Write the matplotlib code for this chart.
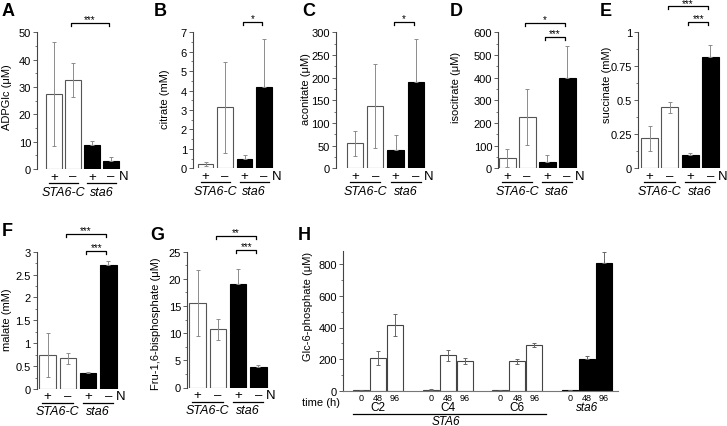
import matplotlib
matplotlib.use("Agg")
import matplotlib.pyplot as plt
from matplotlib.lines import Line2D
from matplotlib.ticker import MultipleLocator, AutoMinorLocator, FormatStrFormatter

W, H = 727, 427

NARROW = ["Liberation Sans Narrow", "Liberation Sans", "DejaVu Sans"]
REGULAR = ["Liberation Sans", "DejaVu Sans"]
plt.rcParams["font.family"] = NARROW

# values
n_signs = ["+", "\u2013", "+", "\u2013"]
genotypes = ["STA6-C", "sta6"]

adpglc = [27.4, 32.6, 8.9, 3.0]
adpglc_err = [19.0, 6.1, 1.2, 1.3]
citrate = [0.2, 3.13, 0.46, 4.2]
citrate_err = [0.1, 2.35, 0.23, 2.45]
aconitate = [55, 138, 40, 190]
aconitate_err = [28, 93, 33, 95]
isocitrate = [44, 225, 29, 397]
isocitrate_err = [40, 123, 30, 141]
succinate = [0.22, 0.45, 0.10, 0.82]
succinate_err = [0.09, 0.04, 0.015, 0.09]
malate = [0.74, 0.67, 0.36, 2.71]
malate_err = [0.48, 0.12, 0.02, 0.08]
fbp = [15.5, 10.7, 19.0, 3.7]
fbp_err = [6.1, 2.0, 2.8, 0.5]

# significance: (bar i, bar j, stars)
sig_a = [(1, 3, "***")]
sig_b = [(2, 3, "*")]
sig_c = [(2, 3, "*")]
sig_d = [(1, 3, "*"), (2, 3, "***")]
sig_e = [(1, 3, "***"), (2, 3, "***")]
sig_f = [(1, 3, "***"), (2, 3, "***")]
sig_g = [(1, 3, "**"), (2, 3, "***")]

h_groups = ["C2", "C4", "C6", "sta6"]
h_times = ["0", "48", "96"]
g6p = [[5, 210, 414], [8, 225, 192], [5, 187, 290], [6, 204, 806]]
g6p_err = [[2, 45, 70], [2, 35, 19], [2, 15, 10], [2, 15, 67]]

fig = plt.figure(figsize=(W / 100, H / 100), dpi=100)


def add_axes_px(left, right, y0, ytop):
    return fig.add_axes([left / W, 1 - y0 / H, (right - left) / W, (y0 - ytop) / H])


def style_yaxis(ax, step, ymax):
    ax.set_ylim(0, ymax)
    ax.yaxis.set_major_locator(MultipleLocator(step))
    ax.yaxis.set_minor_locator(AutoMinorLocator(2))
    ax.yaxis.set_major_formatter(FormatStrFormatter("%g"))
    ax.tick_params(axis="y", which="major", direction="out", length=3, width=0.6,
                   pad=1.4, labelsize=8, color="#444")
    ax.tick_params(axis="y", which="minor", direction="out", length=1.6, width=0.5,
                   color="#444")
    ax.spines["left"].set_linewidth(0.8)
    ax.spines["left"].set_color("#444")
    for s in ("top", "right"):
        ax.spines[s].set_visible(False)


def place_ylabel(ax, text, axis_x, right, y0, ytop, cx, cy):
    ax.set_ylabel(text, family=REGULAR, fontsize=8)
    ax.yaxis.label.set_va("center")
    ax.yaxis.set_label_coords((cx - axis_x) / (right - axis_x), (y0 - cy) / (y0 - ytop))


# layout in pixels: axis x, first bar centre, bar spacing, bar width,
# y of zero, y of top, ylabel centre x, ylabel centre y, bracket ys, letter pos
LAYOUT = {
    "A": (37.3, 54, 19.0, 16.0, 170, 33.3, 7, 97, [24], (2, 3)),
    "B": (193, 205.5, 19.5, 15.5, 169.3, 33.3, 165, 99, [22.7], (154, 3)),
    "C": (336, 355, 20.3, 16.3, 169.3, 33.3, 306, 89, [22.7], (302, 3)),
    "D": (498.3, 507, 20.0, 17.0, 169.3, 33.3, 456, 87, [24, 37.7], (450, 3)),
    "E": (638, 649.5, 20.3, 17.0, 169.3, 33.3, 607, 85, [7.3, 22.7], (600, 3)),
    "F": (36.7, 47.5, 20.3, 16.5, 390, 252.7, 7, 320, [235, 251.7], (2, 223)),
    "G": (187.3, 197.5, 20.3, 16.5, 388.5, 252.7, 156, 324, [236.7, 250.7], (150, 227)),
}

bar_fill = ["white", "white", "black", "black"]
bar_edge = ["#555555", "#555555", "black", "black"]


def bar_panel(letter, vals, errs, ylabel, ymax, step, sigs):
    axis_x, c0, sp, bw, y0, ytop, lab_x, lab_y, brk_y, lpos = LAYOUT[letter]
    right = c0 + 3.55 * sp
    ax = add_axes_px(axis_x, right, y0, ytop)
    h_px = y0 - ytop
    x = list(range(len(vals)))
    ax.bar(x, vals, width=bw / sp, color=bar_fill, edgecolor=bar_edge,
           linewidth=0.8, zorder=2)
    lower = [e if f == "white" else 0 for e, f in zip(errs, bar_fill)]
    ax.errorbar(x, vals, yerr=[lower, errs], fmt="none", ecolor="#8c8c8c",
                elinewidth=0.7, capsize=1.5, capthick=0.7, zorder=3)
    ax.set_xlim((axis_x - c0) / sp, (right - c0) / sp)
    style_yaxis(ax, step, ymax)
    ax.spines["bottom"].set_visible(False)
    ax.set_xticks([])
    place_ylabel(ax, ylabel, axis_x, right, y0, ytop, lab_x, lab_y)

    tr = ax.get_xaxis_transform()
    for xi, s in zip(x, n_signs):
        ax.text(xi, -7.5 / h_px, s, transform=tr, ha="center", va="center",
                family=REGULAR, fontsize=9.5, clip_on=False)
    ax.text(x[-1] + 12.5 / sp, -7.5 / h_px, "N", transform=tr, ha="center", va="center",
            family=REGULAR, fontsize=9.5, clip_on=False)
    for k, g in enumerate(genotypes):
        a, b = 2 * k, 2 * k + 1
        ax.add_line(Line2D([a - 0.25, b + 0.25], [-14 / h_px] * 2, transform=tr,
                           color="black", lw=0.9, clip_on=False))
        ax.text((a + b) / 2, -22.5 / h_px, g, transform=tr, ha="center", va="center",
                style="italic", fontsize=9, clip_on=False)

    for (i, j, stars), yb in zip(sigs, brk_y):
        fy = (y0 - yb) / h_px
        t = 3 / h_px
        ax.add_line(Line2D([i - 0.1, i - 0.1, j - 0.1, j - 0.1], [fy - t, fy, fy, fy - t],
                           transform=tr, color="black", lw=0.9, clip_on=False))
        ax.text((i + j) / 2 - 0.1, fy + 0.5 / h_px, stars, transform=tr, ha="center",
                va="baseline", family=REGULAR, fontsize=7, clip_on=False)

    fig.text(lpos[0] / W, 1 - lpos[1] / H, letter, family=REGULAR, fontsize=13,
             weight="bold", ha="left", va="top")
    return ax


bar_panel("A", adpglc, adpglc_err, "ADPGlc (\u03bcM)", 50, 10, sig_a)
bar_panel("B", citrate, citrate_err, "citrate (mM)", 7, 1, sig_b)
bar_panel("C", aconitate, aconitate_err, "aconitate (\u03bcM)", 300, 50, sig_c)
bar_panel("D", isocitrate, isocitrate_err, "isocitrate (\u03bcM)", 600, 100, sig_d)
bar_panel("E", succinate, succinate_err, "succinate (mM)", 1, 0.25, sig_e)
bar_panel("F", malate, malate_err, "malate (mM)", 3, 0.5, sig_f)
bar_panel("G", fbp, fbp_err, "Fru-1,6-bisphosphate (\u03bcM)", 25, 5, sig_g)

# ---- panel H: Glc-6-phosphate time course ----
h_left, h_right, h_y0, h_ymax = 343, 618, 392, 880
h_c0, h_sp, h_bw, h_gap = 361, 17, 16, 4.1
h_top = h_y0 - h_ymax * (127 / 800)
axh = add_axes_px(h_left, h_right, h_y0, h_top)
hh = h_y0 - h_top
pos, vals, errs, fills, edges = [], [], [], [], []
for g, name in enumerate(h_groups):
    for j in range(len(h_times)):
        pos.append(g * h_gap + j)
        vals.append(g6p[g][j])
        errs.append(g6p_err[g][j])
        black = name == "sta6"
        fills.append("black" if black else "white")
        edges.append("black" if black else "#444444")
axh.bar(pos, vals, width=h_bw / h_sp, color=fills, edgecolor=edges, linewidth=0.8, zorder=2)
lower = [e if f == "white" else 0 for e, f in zip(errs, fills)]
axh.errorbar(pos, vals, yerr=[lower, errs], fmt="none", ecolor="#666666",
             elinewidth=0.7, capsize=1.6, capthick=0.7, zorder=3)
axh.set_xlim((h_left - h_c0) / h_sp, (h_right - h_c0) / h_sp)
style_yaxis(axh, 200, h_ymax)
axh.yaxis.set_major_locator(MultipleLocator(200))
axh.yaxis.set_minor_locator(MultipleLocator(100))
axh.spines["bottom"].set_linewidth(0.8)
axh.spines["bottom"].set_color("#777")
axh.set_xticks(pos)
axh.set_xticklabels(h_times * len(h_groups))
axh.tick_params(axis="x", length=0, pad=1.2, labelsize=6.5)
place_ylabel(axh, "Glc-6-phosphate (\u03bcM)", h_left, h_right, h_y0, h_top, 308, 306)

trh = axh.get_xaxis_transform()
for g, name in enumerate(h_groups):
    axh.text(g * h_gap + 1, -16 / hh, name, transform=trh, ha="center", va="center",
             fontsize=8.5, style="italic" if name == "sta6" else "normal", clip_on=False)
axh.text((321 - h_left) / (h_right - h_left), -11 / hh, "time (h)", transform=axh.transAxes,
         ha="center", va="center", fontsize=8, clip_on=False)
sta6_ctrl_end = 2 * h_gap + 2
axh.add_line(Line2D([-0.5, sta6_ctrl_end + 0.7], [-23 / hh] * 2, transform=trh,
                    color="black", lw=0.9, clip_on=False))
axh.text((sta6_ctrl_end - 0.2) / 2, -30.5 / hh, "STA6", transform=trh, ha="center",
         va="center", style="italic", fontsize=8.5, clip_on=False)
fig.text(298 / W, 1 - 227 / H, "H", family=REGULAR, fontsize=13, weight="bold",
         ha="left", va="top")

fig.savefig("out.png", dpi=100)
